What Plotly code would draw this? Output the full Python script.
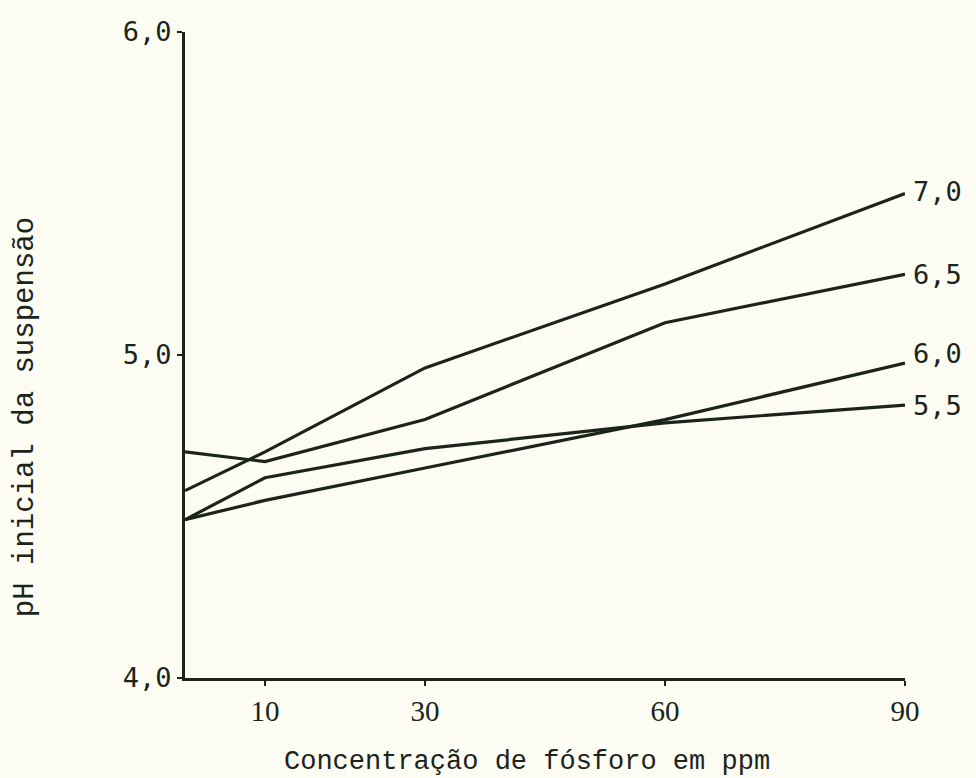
import plotly.graph_objects as go

# Concentração de fósforo (ppm)
fosforo = [0, 10, 30, 60, 90]

# pH inicial da suspensão, one series per pH level
series_names = ["7,0", "6,5", "6,0", "5,5"]
ph_70 = [4.58, 4.70, 4.96, 5.22, 5.50]
ph_65 = [4.70, 4.67, 4.80, 5.10, 5.25]
ph_60 = [4.49, 4.55, 4.65, 4.80, 4.975]
ph_55 = [4.49, 4.62, 4.71, 4.79, 4.845]

x_tickvals = [10, 30, 60, 90]
x_ticktext = ["10", "30", "60", "90"]
y_tickvals = [4.0, 5.0, 6.0]
y_ticktext = ["4,0", "5,0", "6,0"]

INK = "#1b241b"
BG = "#fcfcf3"

fig = go.Figure()
all_series = [ph_70, ph_65, ph_60, ph_55]
label_shift = [2, 0, 10, 0]
for name, vals, dy in zip(series_names, all_series, label_shift):
    fig.add_trace(go.Scatter(x=fosforo, y=vals, mode="lines", name=name,
                             line=dict(color=INK, width=3.2), showlegend=False))
    fig.add_annotation(x=fosforo[-1], y=vals[-1], text=name, showarrow=False,
                       xanchor="left", yanchor="middle", xshift=6, yshift=dy,
                       font=dict(family="DejaVu Sans Mono", size=27, color=INK))

fig.add_annotation(xref="paper", yref="paper", x=-0.222, y=0.404,
                   text="pH inicial da suspensão", textangle=-90, showarrow=False,
                   xanchor="center", yanchor="middle",
                   font=dict(family="Liberation Mono", size=29, color=INK))
fig.add_annotation(xref="paper", yref="paper", x=0.475, y=-0.13,
                   text="Concentração de fósforo em ppm", showarrow=False,
                   xanchor="center", yanchor="middle",
                   font=dict(family="Liberation Mono", size=27, color=INK))

fig.update_layout(
    width=976, height=778,
    margin=dict(l=185, r=71, t=32, b=100),
    paper_bgcolor=BG, plot_bgcolor=BG,
)
fig.update_xaxes(range=[0, 90], showgrid=False, zeroline=False,
                 showline=True, linecolor=INK, linewidth=3,
                 ticks="outside", ticklen=5, tickwidth=2, tickcolor=INK,
                 tickvals=x_tickvals, ticktext=x_ticktext,
                 tickfont=dict(family="Liberation Serif", size=29, color=INK))
fig.update_yaxes(range=[4, 6], showgrid=False, zeroline=False,
                 showline=True, linecolor=INK, linewidth=3,
                 ticks="outside", ticklen=5, tickwidth=2, tickcolor=INK,
                 tickvals=y_tickvals, ticktext=y_ticktext,
                 ticklabelstandoff=0,
                 tickfont=dict(family="DejaVu Sans Mono", size=27, color=INK))

fig.write_html("out.html")
